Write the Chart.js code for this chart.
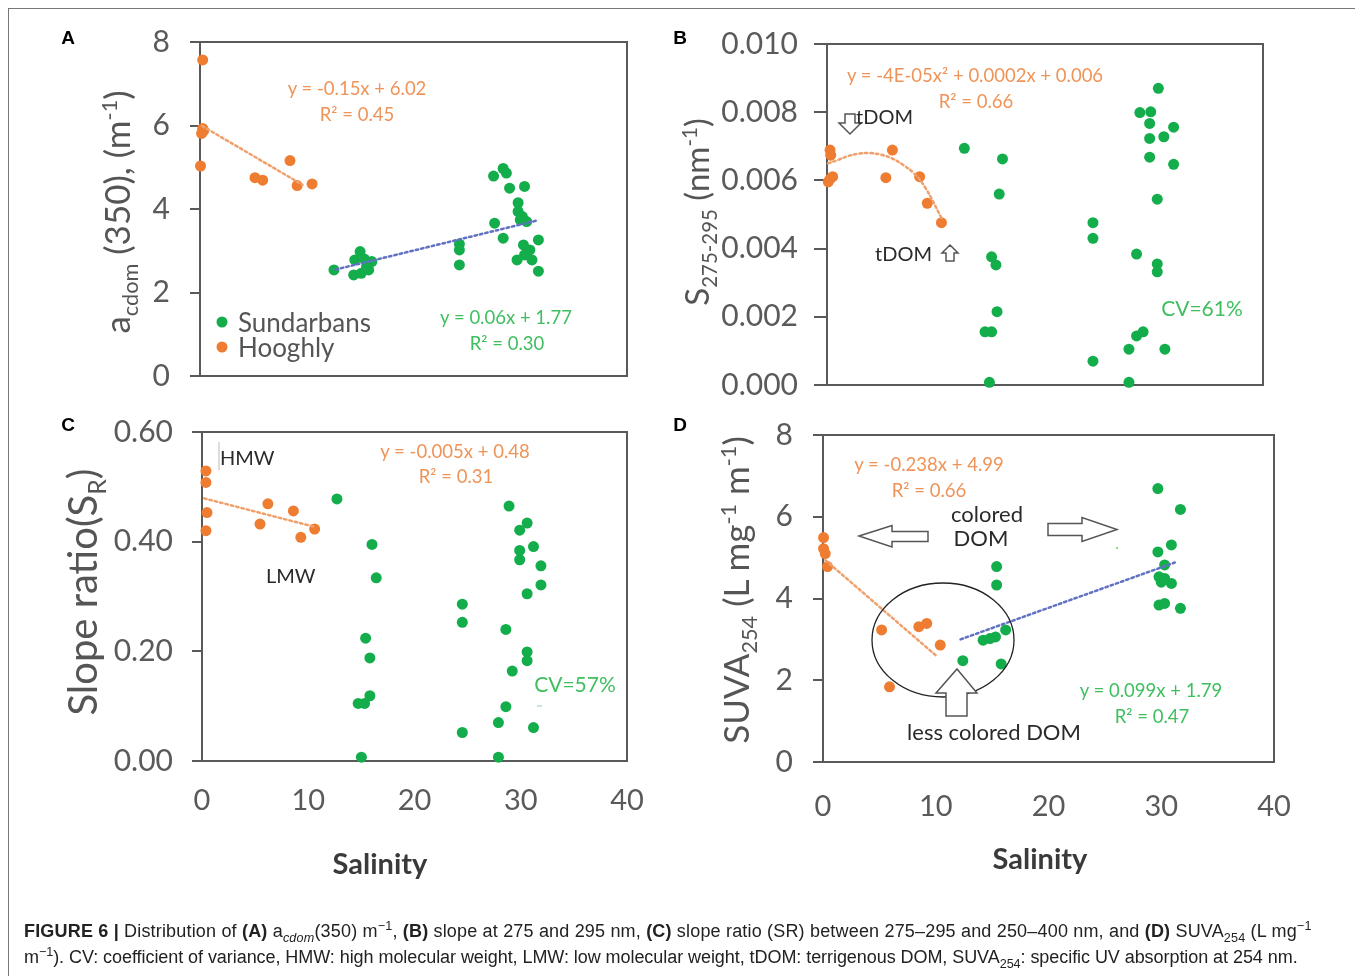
<!DOCTYPE html>
<html>
<head>
<meta charset="utf-8">
<script src="https://cdn.jsdelivr.net/npm/chart.js@4.4.1/dist/chart.umd.min.js"></script>
<style>
body{margin:0;background:#fff;width:1355px;height:976px;position:relative;overflow:hidden;font-family:Lato,sans-serif}
canvas{position:absolute}
.t{position:absolute;white-space:nowrap;line-height:1}
.c{transform:translate(-50%,-50%)}
.l{transform:translate(0,-50%)}
.r90{transform:translate(-50%,-50%) rotate(-90deg)}
.eqo{color:#ef9458;font-size:18.5px}
.eqg{color:#3fbf5f;font-size:18.5px}
.ann{color:#2a2a2a;font-size:20px}
.annd{color:#2a2a2a;font-size:22px}
.ytl{color:#555;font-size:35px}
.ytl sub,.ytl sup{font-size:0.62em}
.sal{color:#3a3a3a;font-size:29px;font-weight:bold}
.let{font-family:"Liberation Sans",Arial,sans-serif;font-weight:bold;font-size:19px;color:#000}
.cap{font-family:"Liberation Sans",Arial,sans-serif;font-size:18px;color:#222;left:24px}
.cap sub,.cap sup{font-size:0.7em;line-height:0}
.dot{position:absolute;width:11px;height:11px;border-radius:50%;transform:translate(-50%,-50%)}
#frameT{position:absolute;left:8px;top:8px;width:1347px;height:0;border-top:1.5px solid #777}
#frameL{position:absolute;left:8px;top:8px;width:0;height:968px;border-left:1.5px solid #777}
svg{position:absolute;left:0;top:0}
</style>
</head>
<body>
<div id="frameT"></div><div id="frameL"></div>
<canvas id="chartA"></canvas>
<canvas id="chartB"></canvas>
<canvas id="chartC"></canvas>
<canvas id="chartD"></canvas>

<svg width="1355" height="976">
  <g fill="#fff" stroke="#555" stroke-width="1.5">
    <ellipse cx="943" cy="640" rx="71" ry="57" fill="none" stroke="#222" stroke-width="1.3"/>
    <polygon points="957,669 977,693 967,693 967,716 946,716 946,693 936,693"/>
    <polygon points="859,536 892,525.5 892,531.5 928,531.5 928,541.5 892,541.5 892,547"/>
    <polygon points="1048,523.5 1082,523.5 1082,517.5 1117,529.5 1082,541.5 1082,535.5 1048,535.5"/>
    <polygon points="845,114 855,114 855,123 861,123 850,134 839,123 845,123"/>
    <polygon points="950,245 958,253 954,253 954,261 946,261 946,253 942,253"/>
  </g>
  <line x1="219" y1="442" x2="219" y2="470" stroke="#bbb" stroke-width="1"/>
  <line x1="537" y1="706" x2="542" y2="706" stroke="#9c9" stroke-width="1"/>
  <circle cx="1117" cy="548" r="1" fill="#6c6"/>
</svg>

<div class="t c let" style="left:68px;top:37px">A</div>
<div class="t c let" style="left:680px;top:37px">B</div>
<div class="t c let" style="left:68px;top:424px">C</div>
<div class="t c let" style="left:680px;top:424px">D</div>

<div class="t r90 ytl" style="left:120px;top:212px">a<sub>cdom</sub> (350), (m<sup>-1</sup>)</div>
<div class="t r90 ytl" style="left:699px;top:212px;font-size:33px">S<sub>275-295</sub> (nm<sup>-1</sup>)</div>
<div class="t r90 ytl" style="left:86px;top:592px;font-size:40px">Slope ratio(S<sub>R</sub>)</div>
<div class="t r90 ytl" style="left:739px;top:590px;font-size:35px">SUVA<sub>254</sub> (L mg<sup>-1</sup> m<sup>-1</sup>)</div>

<div class="t c sal" style="left:380px;top:862px">Salinity</div>
<div class="t c sal" style="left:1040px;top:857px">Salinity</div>

<div class="dot" style="left:222px;top:322px;background:#13ad4b"></div>
<div class="t l" style="left:238px;top:322px;font-size:26px;color:#555">Sundarbans</div>
<div class="dot" style="left:222px;top:347px;background:#ee7d32"></div>
<div class="t l" style="left:238px;top:347px;font-size:26px;color:#555">Hooghly</div>

<div class="t c eqo" style="left:357px;top:88px">y = -0.15x + 6.02</div>
<div class="t c eqo" style="left:357px;top:114px">R² = 0.45</div>
<div class="t c eqg" style="left:506px;top:317px">y = 0.06x + 1.77</div>
<div class="t c eqg" style="left:507px;top:343px">R² = 0.30</div>

<div class="t c eqo" style="left:975px;top:75px">y = -4E-05x² + 0.0002x + 0.006</div>
<div class="t c eqo" style="left:976px;top:101px">R² = 0.66</div>
<div class="t l ann" style="left:856px;top:116px">tDOM</div>
<div class="t l ann" style="left:875px;top:253px">tDOM</div>
<div class="t c eqg" style="left:1202px;top:307px;font-size:21px">CV=61%</div>

<div class="t l ann" style="left:220px;top:457px">HMW</div>
<div class="t l ann" style="left:266px;top:575px">LMW</div>
<div class="t c eqo" style="left:455px;top:451px">y = -0.005x + 0.48</div>
<div class="t c eqo" style="left:456px;top:476px">R² = 0.31</div>
<div class="t c eqg" style="left:575px;top:683px;font-size:21px">CV=57%</div>

<div class="t c eqo" style="left:929px;top:464px">y = -0.238x + 4.99</div>
<div class="t c eqo" style="left:929px;top:490px">R² = 0.66</div>
<div class="t c annd" style="left:987px;top:514px">colored</div>
<div class="t c annd" style="left:981px;top:538px">DOM</div>
<div class="t c annd" style="left:994px;top:732px">less colored DOM</div>
<div class="t c eqg" style="left:1151px;top:690px">y = 0.099x + 1.79</div>
<div class="t c eqg" style="left:1152px;top:716px">R² = 0.47</div>

<div class="t cap" style="top:922px;letter-spacing:0.18px"><b>FIGURE 6 |</b> Distribution of <b>(A)</b> a<sub><i>cdom</i></sub>(350) m<sup>−1</sup>, <b>(B)</b> slope at 275 and 295 nm, <b>(C)</b> slope ratio (SR) between 275–295 and 250–400 nm, and <b>(D)</b> SUVA<sub>254</sub> (L mg<sup>−1</sup></div>
<div class="t cap" style="top:948px;letter-spacing:-0.06px">m<sup>−1</sup>). CV: coefficient of variance, HMW: high molecular weight, LMW: low molecular weight, tDOM: terrigenous DOM, SUVA<sub>254</sub>: specific UV absorption at 254 nm.</div>

<script>
const GREEN = "#13ad4b", ORANGE = "#ee7d32";
const ORANGE_FIT = "#f0a06c", BLUE_FIT = "#6272c2";

// salinity tick labels (shared by all panels)
const xTicks = [0, 10, 20, 30, 40];

// (A) acdom(350)
const yTicksA = [0, 2, 4, 6, 8];
const aHooghlySal = [0.25, 0.25, 0.15, 0.35, 0.05, 5.15, 5.87, 8.43, 9.1, 10.5];
const aHooghlyVal = [7.57, 5.93, 5.81, 5.88, 5.03, 4.75, 4.69, 5.16, 4.56, 4.6];
const aSundSal = [12.55, 15.0, 14.5, 15.4, 16.1, 14.4, 15.1, 15.8, 15.6, 24.3, 24.3, 24.3,
  27.5, 28.4, 28.7, 29.0, 30.4, 29.8, 29.8, 30.0, 30.6, 27.6, 28.4, 31.7, 30.3, 30.9, 29.7, 30.4, 31.1, 31.7, 30.2];
const aSundVal = [2.54, 2.98, 2.78, 2.8, 2.74, 2.42, 2.46, 2.54, 2.62, 3.16, 3.02, 2.66,
  4.79, 4.97, 4.86, 4.5, 4.54, 4.15, 3.94, 3.74, 3.7, 3.66, 3.3, 3.26, 3.14, 3.02, 2.78, 2.9, 2.78, 2.51, 3.82];
const aHooghlyFitSal = [0.2, 9.6], aHooghlyFitVal = [5.99, 4.58];
const aSundFitSal = [12.7, 31.5], aSundFitVal = [2.55, 3.72];

// (B) S275-295
const yTicksB = [0, 0.002, 0.004, 0.006, 0.008, 0.010];
const bHooghlySal = [0.28, 0.34, 0.52, 0.12, 0.3, 6.0, 5.4, 8.5, 9.2, 10.5];
const bHooghlyVal = [0.00689, 0.00674, 0.00611, 0.00596, 0.00605, 0.00689, 0.00608, 0.00611, 0.00533, 0.00476];
const bSundSal = [12.6, 16.1, 15.8, 15.1, 15.5, 15.6, 14.5, 15.1, 14.9, 24.4, 24.4, 24.4,
  30.4, 28.7, 29.7, 29.6, 31.8, 29.6, 30.9, 29.6, 31.8, 30.3, 28.4, 30.3, 30.3, 29.0, 28.4, 27.7, 31.0, 27.7];
const bSundVal = [0.00694, 0.00663, 0.0056, 0.00376, 0.00352, 0.00215, 0.00156, 0.00156, 0.00008, 0.00476, 0.0043, 0.0007,
  0.0087, 0.00799, 0.00801, 0.00767, 0.00756, 0.00723, 0.00728, 0.00668, 0.00647, 0.00545, 0.00384, 0.00355, 0.00332,
  0.00156, 0.00144, 0.00105, 0.00105, 0.00008];
const bHooghlyFitSal = [0.1, 1, 2, 3, 4, 5, 6, 7, 8, 9, 10.5];
const bHooghlyFitVal = [0.0065, 0.0066, 0.00672, 0.00679, 0.0068, 0.00675, 0.00664, 0.00645, 0.0062, 0.0058, 0.0049];

// (C) slope ratio
const yTicksC = [0, 0.2, 0.4, 0.6];
const cHooghlySal = [0.37, 0.37, 0.47, 0.37, 6.2, 5.46, 8.6, 9.3, 10.6];
const cHooghlyVal = [0.529, 0.508, 0.453, 0.42, 0.469, 0.432, 0.456, 0.408, 0.423];
const cSundSal = [12.7, 16.0, 16.4, 15.4, 15.8, 15.8, 14.7, 15.3, 15.0, 24.5, 24.5, 24.5,
  28.9, 30.6, 29.9, 31.2, 29.9, 29.9, 31.9, 31.9, 30.6, 28.6, 30.6, 30.6, 29.2, 28.6, 27.9, 31.2, 27.9];
const cSundVal = [0.478, 0.395, 0.334, 0.224, 0.188, 0.119, 0.105, 0.105, 0.007, 0.286, 0.253, 0.052,
  0.465, 0.434, 0.421, 0.391, 0.384, 0.367, 0.356, 0.321, 0.305, 0.24, 0.199, 0.183, 0.164, 0.099, 0.07, 0.061, 0.007];
const cHooghlyFitSal = [0.2, 10.6], cHooghlyFitVal = [0.479, 0.427];

// (D) SUVA254
const yTicksD = [0, 2, 4, 6, 8];
const dHooghlySal = [0.05, 0.05, 0.2, 0.4, 5.2, 8.5, 9.2, 10.4, 5.9];
const dHooghlyVal = [5.49, 5.22, 5.10, 4.78, 3.23, 3.31, 3.39, 2.86, 1.84];
const dSundSal = [15.4, 15.4, 14.2, 14.8, 15.3, 16.2, 12.4, 15.8, 29.7, 31.7, 30.9, 29.7, 30.3, 29.8, 30.3, 30.9, 30.0, 29.8, 30.3, 31.7];
const dSundVal = [4.78, 4.33, 2.98, 3.02, 3.06, 3.23, 2.48, 2.40, 6.69, 6.18, 5.31, 5.14, 4.82, 4.53, 4.49, 4.37, 4.40, 3.84, 3.88, 3.76];
const dHooghlyFitSal = [0.2, 10.0], dHooghlyFitVal = [4.94, 2.61];
const dSundFitSal = [12.2, 31.2], dSundFitVal = [3.0, 4.88];

function pts(xs, ys){ return xs.map((x,i)=>({x, y: ys[i]})); }

function dots(xs, ys, color){
  return { data: pts(xs, ys), backgroundColor: color, borderWidth: 0, pointRadius: 5.5, clip: false };
}
function fit(xs, ys, color, curved){
  return { type: "line", data: pts(xs, ys), borderColor: color, borderWidth: 2.5, borderDash: [2.5, 3],
    borderCapStyle: "round", pointRadius: 0, fill: false, tension: curved ? 0.4 : 0, clip: false };
}

const framePlugin = {
  id: "frame",
  beforeDatasetsDraw(chart){
    const { ctx, chartArea: a } = chart;
    ctx.save();
    ctx.strokeStyle = "#595959";
    ctx.lineWidth = 2;
    ctx.strokeRect(a.left, a.top, a.right - a.left, a.bottom - a.top);
    ctx.restore();
  }
};

// fixed axis size, and no extra room asked for the end labels
function fixSize(s, prop, size){
  s[prop] = size;
  s.paddingLeft = 0; s.paddingRight = 0; s.paddingTop = 0; s.paddingBottom = 0;
}

function makeChart(id, box, area, conf){
  const cv = document.getElementById(id);
  cv.style.left = box.x + "px"; cv.style.top = box.y + "px";
  cv.style.width = box.w + "px"; cv.style.height = box.h + "px";
  cv.width = box.w; cv.height = box.h;
  const yW = area.left - box.x, xH = box.y + box.h - area.bottom;
  const yt = conf.yTicks;
  return new Chart(cv, {
    type: "scatter",
    data: { datasets: conf.datasets },
    options: {
      responsive: false, animation: false, devicePixelRatio: 1,
      layout: { padding: { top: area.top - box.y, right: box.x + box.w - area.right, left: 0, bottom: 0 } },
      plugins: { legend: { display: false }, tooltip: { enabled: false } },
      scales: {
        x: {
          type: "linear", min: 0, max: 40,
          afterBuildTicks: s => { s.ticks = xTicks.map(v => ({ value: v })); },
          ticks: { display: conf.showX, autoSkip: false, maxRotation: 0, padding: conf.xPad || 20,
            font: { family: "Lato", size: 29 }, color: "#5a5a5a" },
          grid: { display: false, drawTicks: false }, border: { display: false },
          afterFit: s => fixSize(s, "height", xH)
        },
        y: {
          type: "linear", min: yt[0], max: yt[yt.length - 1],
          afterBuildTicks: s => { s.ticks = yt.map(v => ({ value: v })); },
          ticks: { autoSkip: false, padding: conf.yPad, callback: v => Number(v).toFixed(conf.dec),
            font: { family: "Lato", size: 30 }, color: "#5a5a5a" },
          grid: { drawOnChartArea: false, drawTicks: true, tickLength: conf.tickLen || 10, color: "#595959", lineWidth: 2 },
          border: { display: false },
          afterFit: s => fixSize(s, "width", yW)
        }
      }
    },
    plugins: [framePlugin]
  });
}

makeChart("chartA", { x: 0, y: 0, w: 660, h: 400 }, { left: 200, top: 42, right: 627, bottom: 376 }, {
  yTicks: yTicksA, dec: 0, yPad: 20, showX: false,
  datasets: [
    fit(aSundFitSal, aSundFitVal, BLUE_FIT),
    fit(aHooghlyFitSal, aHooghlyFitVal, ORANGE_FIT),
    dots(aSundSal, aSundVal, GREEN),
    dots(aHooghlySal, aHooghlyVal, ORANGE)
  ]
});

makeChart("chartB", { x: 660, y: 0, w: 640, h: 400 }, { left: 827, top: 44, right: 1263, bottom: 385 }, {
  yTicks: yTicksB, dec: 3, yPad: 16, tickLen: 13, showX: false,
  datasets: [
    fit(bHooghlyFitSal, bHooghlyFitVal, ORANGE_FIT, true),
    dots(bSundSal, bSundVal, GREEN),
    dots(bHooghlySal, bHooghlyVal, ORANGE)
  ]
});

makeChart("chartC", { x: 0, y: 400, w: 660, h: 500 }, { left: 202, top: 432, right: 627, bottom: 761 }, {
  yTicks: yTicksC, dec: 2, yPad: 19, showX: true, xPad: 22,
  datasets: [
    fit(cHooghlyFitSal, cHooghlyFitVal, ORANGE_FIT),
    dots(cSundSal, cSundVal, GREEN),
    dots(cHooghlySal, cHooghlyVal, ORANGE)
  ]
});

makeChart("chartD", { x: 660, y: 400, w: 640, h: 500 }, { left: 823, top: 435, right: 1274, bottom: 762 }, {
  yTicks: yTicksD, dec: 0, yPad: 20, showX: true, xPad: 27,
  datasets: [
    fit(dSundFitSal, dSundFitVal, BLUE_FIT),
    fit(dHooghlyFitSal, dHooghlyFitVal, ORANGE_FIT),
    dots(dSundSal, dSundVal, GREEN),
    dots(dHooghlySal, dHooghlyVal, ORANGE)
  ]
});
</script>
</body>
</html>
